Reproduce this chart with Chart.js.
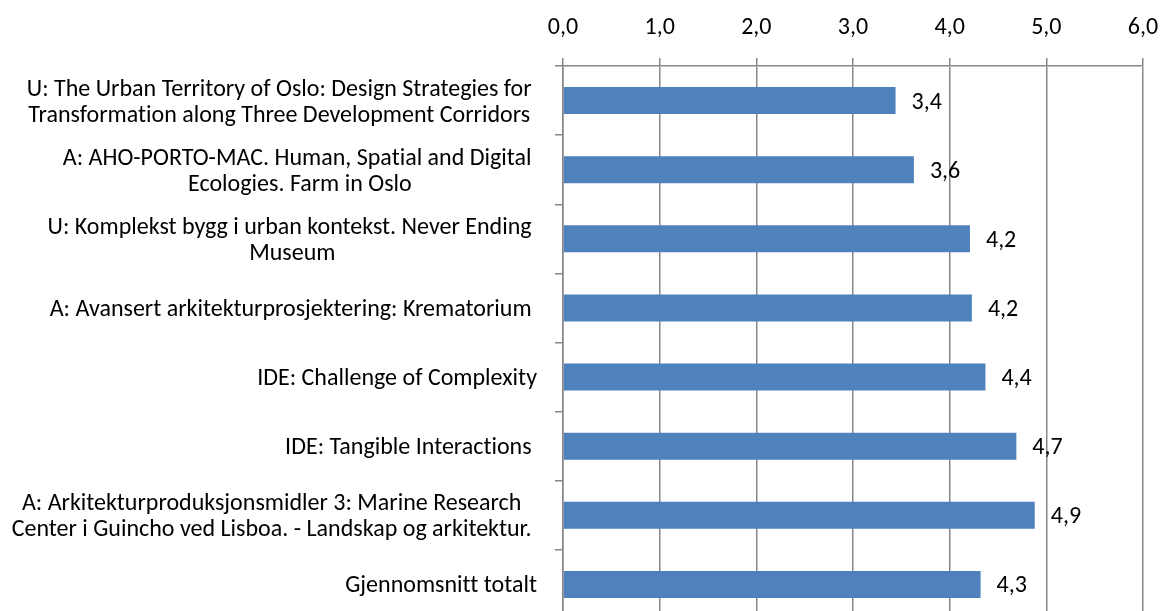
<!DOCTYPE html>
<html>
<head>
<meta charset="utf-8">
<script src="https://cdn.jsdelivr.net/npm/chart.js@4.4.1/dist/chart.umd.min.js"></script>
<style>
  html, body { margin: 0; padding: 0; background: #fff; overflow: hidden; }
  #wrap { position: relative; width: 1169px; height: 625px; }
</style>
</head>
<body>
<div id="wrap"><canvas id="chart"></canvas></div>
<script>
'use strict'

// category labels, already wrapped the way the original does it
const categories = [
  ['U: The Urban Territory of Oslo: Design Strategies for ', 'Transformation along Three Development Corridors '],
  ['A: AHO-PORTO-MAC. Human, Spatial and Digital ', 'Ecologies. Farm in Oslo'],
  ['U: Komplekst bygg i urban kontekst. Never Ending ', 'Museum'],
  ['A: Avansert arkitekturprosjektering: Krematorium '],
  ['IDE: Challenge of Complexity'],
  ['IDE: Tangible Interactions '],
  ['A: Arkitekturproduksjonsmidler 3: Marine Research ', 'Center i Guincho ved Lisboa. - Landskap og arkitektur. '],
  ['Gjennomsnitt totalt'],
]
const scores = [3.44, 3.63, 4.21, 4.23, 4.37, 4.69, 4.88, 4.32]
const xTicks = [0, 1, 2, 3, 4, 5, 6]

const FONT = 'Carlito, Lato, sans-serif'
const SIZE = 24
const GRID = '#878787'

const fmt = (v) => v.toFixed(1).replace('.', ',')

// draws the category labels (lines centred inside a right-aligned block) and the value labels
const labelPlugin = {
  id: 'labels',
  afterDraw(chart) {
    const ctx = chart.ctx
    const yScale = chart.scales.y
    ctx.save()
    ctx.font = SIZE + 'px ' + FONT
    if ('textRendering' in ctx) ctx.textRendering = 'optimizeSpeed' // no "ti" ligature
    ctx.fillStyle = '#000'
    ctx.textBaseline = 'middle'
    ctx.textAlign = 'center'
    const right = yScale.right - 8 - 18
    chart.data.labels.forEach((lines, i) => {
      const y = yScale.getPixelForTick(i)
      const w = Math.max(...lines.map((l) => ctx.measureText(l).width))
      const cx = right - w / 2
      lines.forEach((l, j) => {
        ctx.fillText(l, cx, y + 2 + (j - (lines.length - 1) / 2) * 26)
      })
    })
    ctx.textAlign = 'left'
    chart.getDatasetMeta(0).data.forEach((bar, i) => {
      ctx.fillText(fmt(chart.data.datasets[0].data[i]), bar.x + 16, bar.y + 2)
    })
    ctx.restore()
  },
}

new Chart(document.getElementById('chart'), {
  type: 'bar',
  data: {
    labels: categories,
    datasets: [
      {
        data: scores,
        backgroundColor: '#4F81BD',
        barPercentage: 0.39,
        categoryPercentage: 1,
      },
    ],
  },
  options: {
    indexAxis: 'y',
    responsive: true,
    maintainAspectRatio: false,
    animation: false,
    layout: { padding: { top: 10, right: 26, bottom: 6, left: 0 } },
    plugins: {
      legend: { display: false },
      tooltip: { enabled: false },
    },
    scales: {
      x: {
        position: 'top',
        min: 0,
        max: 6,
        afterBuildTicks: (s) => {
          s.ticks = xTicks.map((v) => ({ value: v }))
        },
        afterFit: (s) => {
          s.height = 56
          s.paddingLeft = 0
          s.paddingRight = 0
        },
        ticks: {
          color: '#000',
          font: { family: FONT, size: SIZE },
          padding: 16,
          callback: (v) => fmt(v),
        },
        grid: { color: GRID, lineWidth: 1.5, tickLength: 8, drawTicks: true },
        border: { color: GRID, width: 1.5 },
      },
      y: {
        afterFit: (s) => {
          s.width = 563
        },
        ticks: { display: false },
        grid: { color: GRID, lineWidth: 1.5, tickLength: 8, drawOnChartArea: false, offset: true },
        border: { color: GRID, width: 1.5 },
      },
    },
  },
  plugins: [labelPlugin],
})
</script>
</body>
</html>
